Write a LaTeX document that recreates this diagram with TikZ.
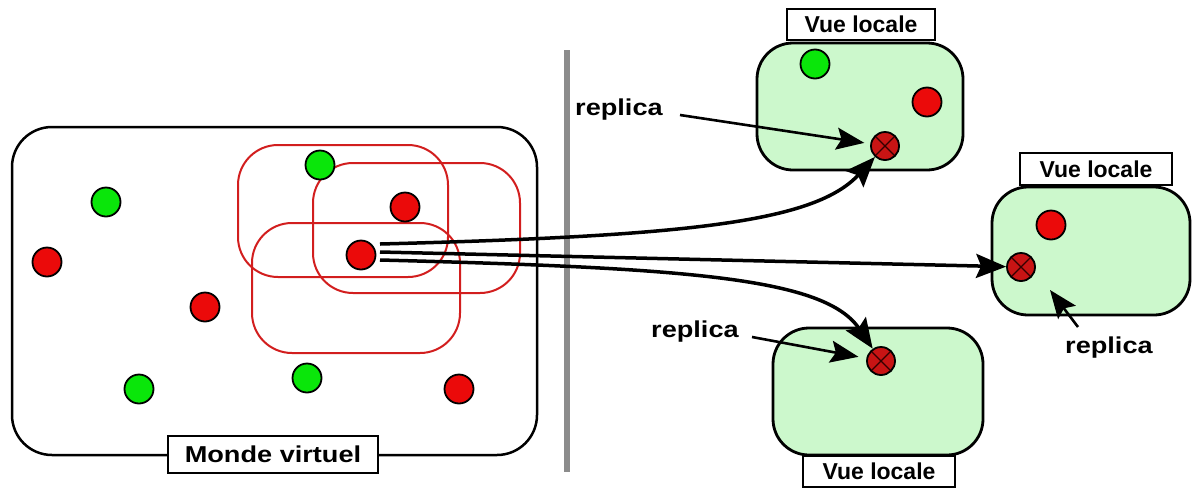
\documentclass[tikz,border=0pt]{standalone}
\usepackage{fontspec}
\setmainfont{Liberation Sans}
\usetikzlibrary{arrows.meta}
\definecolor{dotgreen}{RGB}{10,230,10}
\definecolor{dotred}{RGB}{235,10,10}
\definecolor{repred}{RGB}{200,20,20}
\definecolor{viewgreen}{RGB}{204,248,204}
\definecolor{zonered}{RGB}{210,30,30}
\definecolor{divgray}{RGB}{140,140,140}
\newcommand{\lbl}[1]{\fontsize{23}{26}\selectfont\bfseries #1}
\newcommand{\wlbl}[1]{\fontsize{23}{26}\selectfont\bfseries\scalebox{1.18}[1]{#1}}
\tikzset{
  world/.style={draw=black,line width=2.5pt,rounded corners=40pt,minimum width=525pt,minimum height=328pt,inner sep=0pt},
  zone/.style={draw=zonered,line width=2pt,rounded corners=40pt,inner sep=0pt},
  view/.style={draw=black,line width=2.8pt,fill=viewgreen,rounded corners=36pt,inner sep=0pt},
  tag/.style={draw=black,line width=2pt,fill=white,inner sep=0pt},
  gdot/.style={circle,draw=black,line width=1.8pt,fill=dotgreen,minimum size=29pt,inner sep=0pt},
  rdot/.style={circle,draw=black,line width=1.8pt,fill=dotred,minimum size=29pt,inner sep=0pt},
  rep/.style={circle,draw=black,line width=1.8pt,fill=repred,minimum size=28pt,inner sep=0pt,
    path picture={\draw[black!80!red,line width=1.3pt]
      (path picture bounding box.north west) -- (path picture bounding box.south east)
      (path picture bounding box.north east) -- (path picture bounding box.south west);}},
  txt/.style={inner sep=1pt},
  bigarrow/.style={line width=3.5pt,-{Stealth[length=30pt 0,width=24pt 0,inset=5pt 0]}},
  ptr/.style={line width=2.6pt,-{Stealth[length=28pt 0,width=22pt 0,inset=5pt 0]}},
}
\begin{document}
\begin{tikzpicture}[x=1pt,y=-1pt]
\useasboundingbox (0,0) rectangle (1198,488);
% world
\node[world] (world) at (274.5,291) {};
% zones
\node[zone,minimum width=210pt,minimum height=132pt] (z1) at (343,211) {};
\node[zone,minimum width=207pt,minimum height=130pt] (z2) at (416.5,228) {};
\node[zone,minimum width=208pt,minimum height=130pt] (z3) at (356,288) {};
% divider
\draw[divgray,line width=6pt] (567,50) -- (567,472);
% views
\node[view,minimum width=206pt,minimum height=127pt] (v1) at (860,106.5) {};
\node[view,minimum width=198pt,minimum height=128pt] (v2) at (1091,251) {};
\node[view,minimum width=210pt,minimum height=127pt] (v3) at (878,391.5) {};
% tags
\node[tag,minimum width=210pt,minimum height=37pt] (tw) at (273,454) {\wlbl{Monde virtuel}};
\node[tag,minimum width=148pt,minimum height=31pt] (t1) at (861,24.5) {\lbl{Vue locale}};
\node[tag,minimum width=152pt,minimum height=32pt] (t2) at (1096,169) {\lbl{Vue locale}};
\node[tag,minimum width=152pt,minimum height=31pt] (t3) at (879,471) {\lbl{Vue locale}};
% dots in world
\node[gdot] (g1) at (106,202) {};
\node[gdot] (g2) at (320,165) {};
\node[gdot] (g3) at (139,389) {};
\node[gdot] (g4) at (307,378) {};
\node[rdot] (r1) at (47,262) {};
\node[rdot] (r2) at (205,307) {};
\node[rdot] (r3) at (405,207) {};
\node[rdot] (r4) at (361,255) {};
\node[rdot] (r5) at (459,389) {};
% dots in views
\node[gdot] (g5) at (815,64) {};
\node[rdot] (r6) at (927,102) {};
\node[rdot] (r7) at (1051,225) {};
\node[rep] (p1) at (885,146) {};
\node[rep] (p2) at (1021,267) {};
\node[rep] (p3) at (881,361) {};
% big arrows
\coordinate (s1) at (380,244);
\coordinate (s2) at (380,252);
\coordinate (s3) at (380,260);
\draw[bigarrow] (s1) .. controls (690,236) and (815,222) .. (p1);
\draw[bigarrow] (s2) -- (p2);
\draw[bigarrow] (s3) .. controls (690,268) and (825,278) .. (p3);
% replica labels
\node[txt,anchor=west] (l1) at (574,110) {\wlbl{replica}};
\node[txt,anchor=west] (l3) at (650,332) {\wlbl{replica}};
\node[txt,anchor=west] (l2) at (1064,348) {\wlbl{replica}};
\coordinate (a1s) at (680,115);
\coordinate (a3s) at (752,337);
\coordinate (a2s) at (1078,327);
\coordinate (a2e) at (1050,290);
\draw[ptr,shorten >=6pt] (a1s) -- (p1);
\draw[ptr,shorten >=8pt] (a3s) -- (p3);
\draw[ptr] (a2s) -- (a2e);
\end{tikzpicture}
\end{document}
